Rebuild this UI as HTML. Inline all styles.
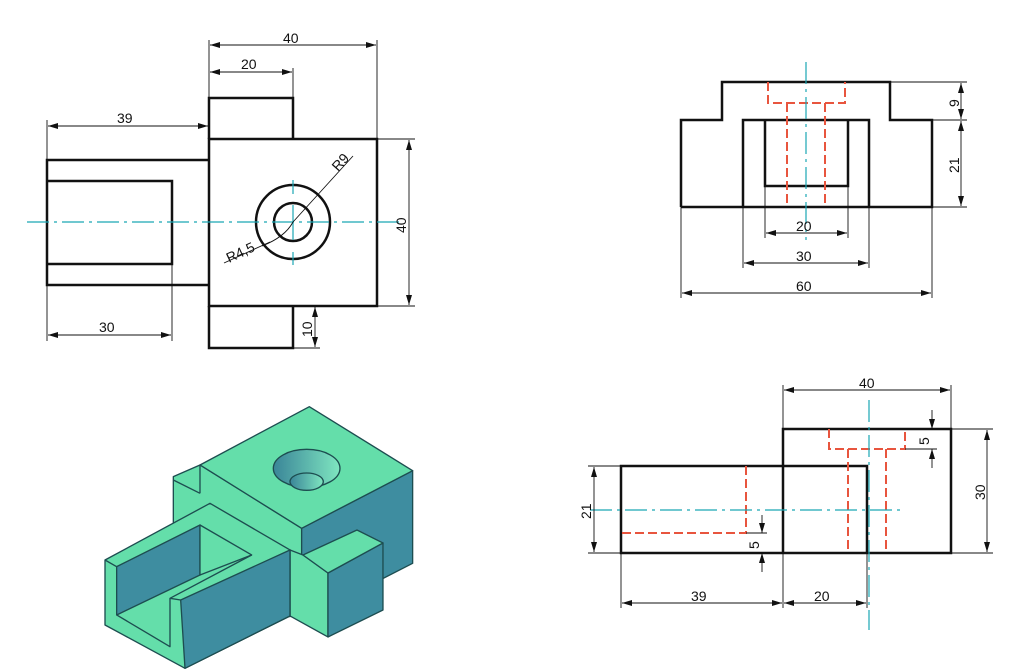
<!DOCTYPE html>
<html><head><meta charset="utf-8"><style>
html,body{margin:0;padding:0;background:#fff;}
svg{display:block}
text{font-family:"Liberation Sans",sans-serif;font-size:14px;fill:#111}
</style></head><body>
<svg width="1024" height="671" viewBox="0 0 1024 671" xmlns="http://www.w3.org/2000/svg">
<defs>
<marker id="a" viewBox="0 0 10 6" refX="10" refY="3" markerWidth="10" markerHeight="6" orient="auto-start-reverse" markerUnits="userSpaceOnUse"><path d="M0,0 L10,3 L0,6 z" fill="#111"/></marker>
<linearGradient id="hg" x1="0" y1="0" x2="1" y2="0"><stop offset="0" stop-color="#3a8598"/><stop offset="1" stop-color="#7fe6c0"/></linearGradient>
</defs>
<g fill="none" stroke="#111">
<g stroke-width="2.5">
<rect x="209" y="139" width="168" height="167"/>
<polyline points="209,139 209,98 293,98 293,139"/>
<polyline points="209,306 209,348 293,348 293,306"/>
<polyline points="209,160 47,160 47,285 209,285"/>
<polyline points="47,181 172,181 172,264 47,264"/>
<circle cx="293" cy="222" r="37"/>
<circle cx="293" cy="222" r="19"/>
</g>
<g stroke="#1aa6b5" stroke-width="1.2" stroke-dasharray="22,5,3,5">
<line x1="27" y1="222" x2="400" y2="222"/>
</g>
<g stroke="#1aa6b5" stroke-width="1.2">
<line x1="293" y1="180" x2="293" y2="194"/><line x1="293" y1="205" x2="293" y2="240"/><line x1="293" y1="252" x2="293" y2="265"/>
</g>
<g stroke-width="0.9">
<line x1="209" y1="40" x2="209" y2="98"/><line x1="377" y1="40" x2="377" y2="139"/>
<line x1="210" y1="45" x2="376" y2="45" marker-start="url(#a)" marker-end="url(#a)"/>
<line x1="293" y1="68" x2="293" y2="98"/>
<line x1="210" y1="72" x2="292" y2="72" marker-start="url(#a)" marker-end="url(#a)"/>
<line x1="47" y1="120" x2="47" y2="160"/>
<line x1="48" y1="126" x2="208" y2="126" marker-start="url(#a)" marker-end="url(#a)"/>
<line x1="377" y1="139" x2="415" y2="139"/><line x1="377" y1="306" x2="415" y2="306"/>
<line x1="409" y1="140" x2="409" y2="305" marker-start="url(#a)" marker-end="url(#a)"/>
<line x1="47" y1="285" x2="47" y2="341"/><line x1="172" y1="264" x2="172" y2="341"/>
<line x1="48" y1="335" x2="171" y2="335" marker-start="url(#a)" marker-end="url(#a)"/>
<line x1="293" y1="348" x2="320" y2="348"/>
<line x1="315" y1="307" x2="315" y2="347" marker-start="url(#a)" marker-end="url(#a)"/>
<line x1="224" y1="263" x2="270" y2="242"/>
<path d="M262,246 Q285,237 293,222"/>
<line x1="293" y1="222" x2="353" y2="156"/>
</g>
</g>
<text x="283" y="43">40</text>
<text x="241" y="69">20</text>
<text x="117" y="123">39</text>
<text x="99" y="332">30</text>
<text transform="translate(406,233) rotate(-90)">40</text>
<text transform="translate(312,337) rotate(-90)">10</text>
<text transform="translate(229,263) rotate(-25)">R4,5</text>
<text transform="translate(338,172) rotate(-48)">R9</text>

<g fill="none" stroke="#111">
<g stroke-width="2.5">
<polyline points="681,207 681,120 722,120 722,82 890,82 890,120 932,120 932,207 681,207"/>
<polyline points="743,207 743,120 869,120 869,207"/>
<polyline points="765,120 765,186 848,186 848,120"/>
</g>
<g stroke="#e8553e" stroke-width="2" stroke-dasharray="9,4">
<polyline points="768,82 768,103 845,103 845,82"/>
<line x1="787" y1="103" x2="787" y2="207"/><line x1="825" y1="103" x2="825" y2="207"/>
</g>
<line x1="806" y1="62" x2="806" y2="240" stroke="#1aa6b5" stroke-width="1.2" stroke-dasharray="22,5,3,5"/>
<g stroke-width="0.9">
<line x1="890" y1="82" x2="967" y2="82"/><line x1="932" y1="120" x2="967" y2="120"/><line x1="932" y1="207" x2="967" y2="207"/>
<line x1="961" y1="83" x2="961" y2="119" marker-start="url(#a)" marker-end="url(#a)"/>
<line x1="961" y1="121" x2="961" y2="206" marker-start="url(#a)" marker-end="url(#a)"/>
<line x1="765" y1="186" x2="765" y2="238"/><line x1="848" y1="186" x2="848" y2="238"/>
<line x1="766" y1="233" x2="847" y2="233" marker-start="url(#a)" marker-end="url(#a)"/>
<line x1="743" y1="207" x2="743" y2="268"/><line x1="869" y1="207" x2="869" y2="268"/>
<line x1="744" y1="263" x2="868" y2="263" marker-start="url(#a)" marker-end="url(#a)"/>
<line x1="681" y1="207" x2="681" y2="298"/><line x1="932" y1="207" x2="932" y2="298"/>
<line x1="682" y1="293" x2="931" y2="293" marker-start="url(#a)" marker-end="url(#a)"/>
</g>
</g>
<text transform="translate(959,107) rotate(-90)">9</text>
<text transform="translate(959,173) rotate(-90)">21</text>
<text x="796" y="231">20</text>
<text x="796" y="261">30</text>
<text x="796" y="291">60</text>

<g fill="none" stroke="#111">
<g stroke-width="2.5">
<polyline points="783,466 621,466 621,553 951,553 951,429 783,429 783,553"/>
<polyline points="783,466 867,466 867,553"/>
</g>
<g stroke="#e8553e" stroke-width="2" stroke-dasharray="9,4">
<polyline points="746,466 746,533 621,533"/>
<polyline points="829,429 829,449 905,449 905,429"/>
<line x1="848" y1="449" x2="848" y2="553"/><line x1="886" y1="449" x2="886" y2="553"/>
</g>
<g stroke="#1aa6b5" stroke-width="1.2" stroke-dasharray="22,5,3,5">
<line x1="590" y1="510" x2="900" y2="510"/>
<line x1="869" y1="400" x2="869" y2="630"/>
</g>
<g stroke-width="0.9">
<line x1="783" y1="385" x2="783" y2="429"/><line x1="951" y1="385" x2="951" y2="429"/>
<line x1="784" y1="390" x2="950" y2="390" marker-start="url(#a)" marker-end="url(#a)"/>
<line x1="951" y1="429" x2="993" y2="429"/><line x1="951" y1="553" x2="993" y2="553"/>
<line x1="987" y1="430" x2="987" y2="552" marker-start="url(#a)" marker-end="url(#a)"/>
<line x1="588" y1="466" x2="621" y2="466"/><line x1="588" y1="553" x2="621" y2="553"/>
<line x1="594" y1="467" x2="594" y2="552" marker-start="url(#a)" marker-end="url(#a)"/>
<line x1="905" y1="449" x2="937" y2="449"/>
<line x1="932" y1="410" x2="932" y2="429" marker-end="url(#a)"/>
<line x1="932" y1="468" x2="932" y2="449" marker-end="url(#a)"/>
<line x1="746" y1="533" x2="767" y2="533"/>
<line x1="762" y1="515" x2="762" y2="533" marker-end="url(#a)"/>
<line x1="762" y1="572" x2="762" y2="553" marker-end="url(#a)"/>
<line x1="621" y1="553" x2="621" y2="608"/><line x1="783" y1="553" x2="783" y2="608"/><line x1="867" y1="553" x2="867" y2="608"/>
<line x1="622" y1="603" x2="782" y2="603" marker-start="url(#a)" marker-end="url(#a)"/>
<line x1="784" y1="603" x2="866" y2="603" marker-start="url(#a)" marker-end="url(#a)"/>
</g>
</g>
<text x="859" y="388">40</text>
<text transform="translate(985,500) rotate(-90)">30</text>
<text transform="translate(591,519) rotate(-90)">21</text>
<text transform="translate(929,445) rotate(-90)">5</text>
<text transform="translate(759,549) rotate(-90)">5</text>
<text x="691" y="601">39</text>
<text x="814" y="601">20</text>

<g transform="translate(90,400) scale(0.3333)" stroke="#1d4d50" stroke-width="4" stroke-linejoin="round">
<!-- main front face -->
<polygon fill="#64deaa" points="250,230 330,195 635,385 635,470 600,450 600,650 250,450"/>
<line x1="330" y1="195" x2="330" y2="280"/>
<polyline fill="none" points="250,240 330,280"/>
<!-- main right face -->
<polygon fill="#3e8da0" points="635,385 968,212 968,490 714,620 635,470"/>
<!-- main top face -->
<polygon fill="#64deaa" points="330,195 658,20 968,212 635,385"/>
<ellipse cx="650" cy="205" rx="100" ry="57" fill="url(#hg)"/>
<ellipse cx="650" cy="245" rx="50" ry="26" fill="url(#hg)"/>
<!-- right tab -->
<polygon fill="#64deaa" points="600,450 639,465 714,519 714,711 600,648"/>
<polygon fill="#3e8da0" points="714,519 879,429 879,630 714,711"/>
<polygon fill="#64deaa" points="639,465 801,390 879,429 714,519"/>
<!-- arm -->
<polygon fill="#64deaa" points="45,480 360,310 600,450 600,648 285,805 45,675"/>
<polygon fill="#3e8da0" points="272,600 600,450 600,648 285,805"/>
<polygon fill="#3e8da0" points="80,500 330,375 330,525 80,645"/>
<polygon fill="#64deaa" points="330,375 485,465 330,525"/>
<polyline fill="none" points="80,645 240,740 240,595 485,465"/>
<line x1="240" y1="595" x2="272" y2="600"/>
<line x1="45" y1="480" x2="80" y2="500"/>
</g>
</svg>
</body></html>
